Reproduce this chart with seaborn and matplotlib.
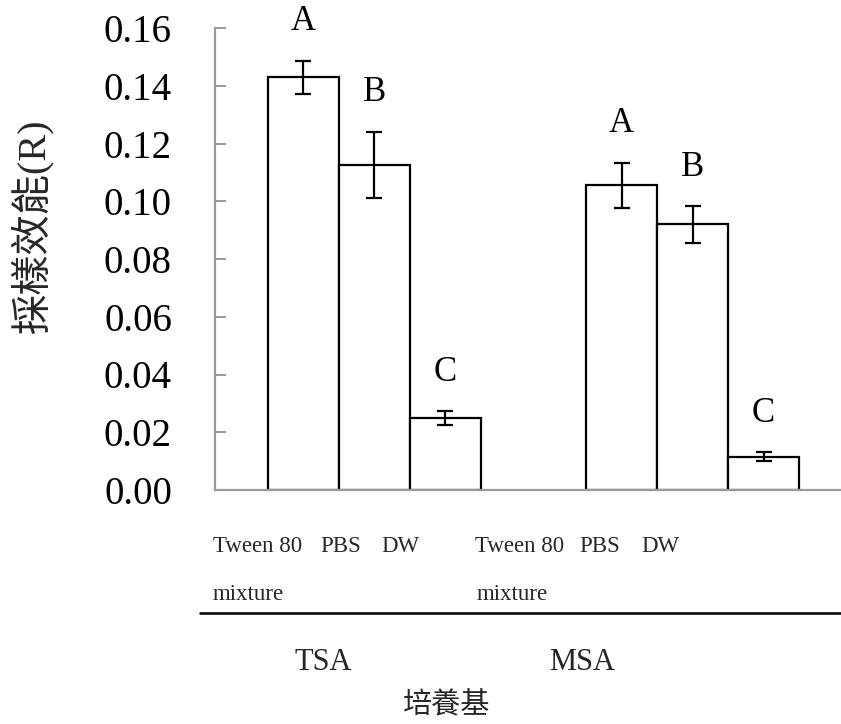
import matplotlib
matplotlib.use("Agg")
import matplotlib.pyplot as plt
import seaborn as sns
import pandas as pd
from matplotlib.lines import Line2D

# Sampling efficiency by culture medium and sampling solution
media = ["TSA", "MSA"]
solutions = ["Tween 80 mixture", "PBS", "DW"]
tsa_mean = [0.143, 0.1125, 0.0248]
tsa_err = [0.0057, 0.0115, 0.0024]
msa_mean = [0.1055, 0.092, 0.0115]
msa_err = [0.0079, 0.0063, 0.0016]
tsa_letters = ["A", "B", "C"]
msa_letters = ["A", "B", "C"]
yticks = [0.00, 0.02, 0.04, 0.06, 0.08, 0.10, 0.12, 0.14, 0.16]

df = pd.DataFrame({
    "medium": ["TSA"] * 3 + ["MSA"] * 3,
    "solution": solutions * 2,
    "value": tsa_mean + msa_mean,
    "err": tsa_err + msa_err,
    "letter": tsa_letters + msa_letters,
})

sns.set_theme(style="white")
SERIF = "Liberation Serif"
CJK = ["Liberation Serif", "Noto Sans CJK TC", "DejaVu Sans"]
plt.rcParams["font.family"] = CJK

W, H = 841, 724
fig = plt.figure(figsize=(W / 100, H / 100), dpi=100)
fig.patch.set_facecolor("white")


def fx(x):
    return x / W


def fy(y):
    return 1 - y / H


ax = fig.add_axes([fx(215), fy(490), fx(841) - fx(215), fy(28) - fy(490)])
ax.set_facecolor("white")

sns.barplot(
    data=df, x="medium", y="value", hue="solution",
    order=media, hue_order=solutions,
    palette=["white"] * 3, edgecolor="black", linewidth=1.6,
    width=0.669, gap=0, errorbar=None, legend=False, ax=ax,
)

# error bars and significance letters on each bar
for sol, container in zip(solutions, ax.containers):
    for med, bar in zip(media, container):
        row = df[(df.medium == med) & (df.solution == sol)].iloc[0]
        xc = bar.get_x() + bar.get_width() / 2
        ax.errorbar(xc, row.value, yerr=row.err, fmt="none", ecolor="black",
                    elinewidth=1.6, capsize=5.8, capthick=1.6, zorder=5)
        ax.text(xc, row.value + row.err + 0.0135, row.letter, ha="center",
                va="center", fontsize=25, family=SERIF, color="black")

ax.set_ylim(0, 0.16)
ax.set_xlim(-0.5, 1.466)
ax.set_yticks(yticks)
ax.set_yticklabels([f"{v:.2f}" for v in yticks], family=SERIF, fontsize=28)
ax.tick_params(axis="y", direction="in", length=8, width=1.4, color="#999999",
               pad=31, labelcolor="black", left=True)
ax.tick_params(axis="x", bottom=False, labelbottom=False)
ax.set_xlabel("")
ax.set_ylabel("")
for side in ["top", "right"]:
    ax.spines[side].set_visible(False)
for side in ["left", "bottom"]:
    ax.spines[side].set_color("#999999")
    ax.spines[side].set_linewidth(1.6)

# category labels under the bars
cat_fs = 16.5
for left_x in (213, 475):
    fig.text(fx(left_x), fy(547), "Tween 80", ha="left", va="center",
             fontsize=cat_fs, family=SERIF)
for left_x in (213, 477):
    fig.text(fx(left_x), fy(595), "mixture", ha="left", va="center",
             fontsize=cat_fs, family=SERIF)
for cx in (341, 600):
    fig.text(fx(cx), fy(547), "PBS", ha="center", va="center",
             fontsize=cat_fs, family=SERIF)
for cx in (400, 660):
    fig.text(fx(cx), fy(547), "DW", ha="center", va="center",
             fontsize=cat_fs, family=SERIF)

fig.add_artist(Line2D([fx(200), fx(841)], [fy(613), fy(613)],
                      color="black", linewidth=1.8, transform=fig.transFigure))

for name, cx in zip(media, (323, 582)):
    fig.text(fx(cx), fy(662), name, ha="center", va="center",
             fontsize=22, family=SERIF)

fig.text(fx(447), fy(706), "培養基", ha="center", va="center",
         fontsize=21, family=CJK)
fig.text(fx(32), fy(226), "採樣效能(R)", ha="center", va="center",
         rotation=90, fontsize=29, family=CJK)

fig.savefig("out.png", dpi=100, facecolor="white")
